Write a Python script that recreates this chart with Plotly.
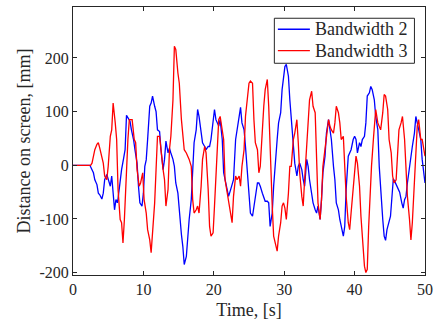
import plotly.graph_objects as go

# ---- Data ----
time_bw2 = [0, 1.0, 2.0, 2.4, 2.9, 3.1, 3.4, 3.6, 3.8, 4.1, 4.3, 4.5, 4.8, 5.0, 5.3, 5.5, 5.7, 5.9, 6.1, 6.3, 6.4,
             6.7, 6.9, 7.2, 7.4, 7.6, 7.9, 8.1, 8.3, 8.6, 8.8, 9.1, 9.3, 9.5, 9.8, 10.0, 10.2, 10.4, 10.6, 10.9,
             11.1, 11.3, 11.6, 11.8, 12.0, 12.3, 12.5, 12.8, 13.0, 13.2, 13.5, 13.7, 13.9, 14.2, 14.4, 14.6,
             14.9, 15.1, 15.4, 15.6, 15.8, 16.1, 16.3, 16.5, 16.8, 17.0, 17.2, 17.5, 17.7, 17.9, 18.2, 18.4,
             18.7, 18.9, 19.2, 19.4, 19.6, 19.9, 20.1, 20.3, 20.5, 20.7, 20.9, 21.2, 21.4, 21.6, 21.9, 22.1,
             22.4, 22.6, 22.8, 23.1, 23.3, 23.6, 23.8, 24.0, 24.3, 24.5, 24.7, 25.0, 25.2, 25.5, 25.7, 25.9,
             26.2, 26.4, 26.6, 26.9, 27.1, 27.3, 27.6, 27.8, 28.0, 28.3, 28.5, 28.8, 29.0, 29.2, 29.5, 29.7,
             29.9, 30.1, 30.3, 30.6, 30.8, 31.0, 31.3, 31.5, 31.8, 32.0, 32.2, 32.5, 32.7, 32.9, 33.2, 33.4,
             33.6, 33.9, 34.1, 34.4, 34.6, 34.8, 35.1, 35.3, 35.5, 35.8, 36.0, 36.3, 36.5, 36.7, 37.0, 37.2,
             37.4, 37.7, 37.9, 38.1, 38.4, 38.6, 38.8, 39.1, 39.3, 39.5, 39.8, 40.0, 40.2, 40.4, 40.7, 40.9,
             41.1, 41.4, 41.6, 41.8, 42.1, 42.3, 42.5, 42.8, 43.0, 43.3, 43.5, 43.7, 44.0, 44.2, 44.4, 44.6,
             44.9, 45.1, 45.3, 45.5, 45.7, 46.0, 46.2, 46.4, 46.7, 46.9, 47.1, 47.3, 47.5, 47.8, 48.0, 48.2,
             48.5, 48.7, 48.9, 49.1, 49.4, 49.6, 49.9, 50.0]
dist_bw2 = [0, 0, 0, 0, -14, -27, -36, -52, -55, -63, -52, -27, -17, -27, -39, -20, -45, -83, -64, -70, -62,
            -24, -8, 14, 29, 93, 85, 82, 66, 48, 29, 4, -39, -70, -76, -52, -2, 10, 48, 110,
            116, 129, 110, 100, 66, 63, 29, -8, 11, 45, 23, 32, 23, 11, -2, -33,
            -52, -89, -129, -151, -185, -170, -132, -101, -64, 4, 42, 66, 104, 91, 66, 42,
            35, 29, 35, 35, 48, 79, 104, 85, 79, 73, 85, 48, -14, -27, -45, -58,
            -45, -33, -27, 48, 66, 85, 108, 79, 66, 35, -2, -64, -89, -95, -76, -64,
            -33, -33, -39, -52, -58, -67, -67, -70, -114, -89, -39, 4, 48, 79, 98, 141,
            160, 184, 188, 166, 122, 85, 29, 4, -20, -2, 4, -8, -27, -39, 11, -2,
            -27, -58, -70, -83, -89, -76, -101, -64, -14, 17, 60, 85, 66, 48, -2, -27,
            -70, -83, -101, -114, -132, -114, -45, 17, 23, 29, 48, 54, 48, 23, 42, 35,
            48, 54, 79, 129, 135, 147, 141, 122, 91, 66, -2, -52, -101, -132, -140, -120,
            -101, -95, -60, -25, -30, -39, -42, -50, -70, -80, -64, -58, -33, -2, 23, 35,
            60, 91, 79, 66, 48, 11, -27, -33]

time_bw3 = [0, 1.0, 2.0, 2.5, 2.7, 2.9, 3.1, 3.4, 3.6, 3.8, 4.1, 4.3, 4.5, 4.8, 5.0, 5.3, 5.5, 5.7, 6.0, 6.2,
            6.4, 6.7, 6.9, 7.1, 7.3, 7.5, 7.8, 8.0, 8.2, 8.4, 8.7, 8.9, 9.1, 9.4, 9.6, 9.9, 10.1, 10.4,
            10.6, 10.9, 11.1, 11.3, 11.6, 11.8, 12.0, 12.3, 12.5, 12.8, 13.0, 13.2, 13.5, 13.7, 13.9, 14.2,
            14.4, 14.6, 14.9, 15.1, 15.4, 15.6, 15.8, 16.1, 16.3, 16.5, 16.8, 17.0, 17.2, 17.5, 17.7, 17.9,
            18.2, 18.4, 18.7, 18.9, 19.2, 19.4, 19.6, 19.9, 20.1, 20.3, 20.5, 20.7, 20.9, 21.2, 21.4, 21.6,
            21.9, 22.1, 22.4, 22.6, 22.8, 23.1, 23.3, 23.6, 23.8, 24.0, 24.3, 24.5, 24.7, 25.0, 25.2, 25.5,
            25.7, 25.9, 26.2, 26.4, 26.6, 26.9, 27.1, 27.3, 27.6, 27.8, 28.0, 28.3, 28.5, 28.8, 29.0, 29.2,
            29.5, 29.7, 29.9, 30.1, 30.3, 30.6, 30.8, 31.0, 31.3, 31.5, 31.8, 32.0, 32.2, 32.5, 32.7, 32.9,
            33.2, 33.4, 33.6, 33.9, 34.1, 34.4, 34.6, 34.8, 35.1, 35.3, 35.5, 35.8, 36.0, 36.3, 36.5, 36.7,
            37.0, 37.2, 37.4, 37.7, 37.9, 38.1, 38.4, 38.6, 38.8, 39.1, 39.3, 39.5, 39.8, 40.0, 40.2, 40.4,
            40.7, 40.9, 41.1, 41.4, 41.6, 41.8, 42.0, 42.2, 42.4, 42.7, 42.9, 43.0, 43.3, 43.5, 43.7, 44.0,
            44.2, 44.4, 44.7, 44.9, 45.2, 45.4, 45.6, 45.9, 46.1, 46.3, 46.6, 46.8, 47.1, 47.3, 47.5, 47.8,
            48.0, 48.2, 48.5, 48.7, 48.9, 49.1, 49.4, 49.6, 49.9, 50.0]
dist_bw3 = [0, 0, 0, 0, 4, 20, 29, 39, 42, 32, 17, 4, -20, -27, -2, 54, 66, 116, 79, 48,
            -45, -101, -107, -145, -101, -27, 48, 85, 85, 85, 48, 42, -8, -39, -33, -14, -64, -89,
            -120, -139, -163, -126, -70, -8, 54, 54, 23, -8, -27, -76, -45, 29, 54, 122,
            222, 216, 172, 153, 85, 48, 29, 23, 17, 11, -2, -64, -89, -83, -76, -89,
            -39, 11, 35, 23, -45, -114, -132, -126, -76, -14, 48, 85, 91, 60, 48, -27,
            -52, -70, -95, -107, -58, -20, -27, -20, -39, -2, 29, 91, 116, 153, 157, 153,
            85, 42, 29, -14, -2, 73, 110, 141, 160, 110, 23, -76, -132, -151, -160, -132,
            -107, -76, -70, -80, -101, -52, -2, -2, 48, 60, 85, 42, -14, -58, -76, -27,
            29, 66, 122, 138, 110, 98, 17, -70, -101, -64, -2, 35, 60, 85, 73, 66,
            60, 79, 110, 98, 79, 48, 54, -2, -58, -107, -120, -89, -45, -2, 17, 4,
            -39, -95, -132, -188, -200, -194, -114, -52, -2, 54, 85, 104, 79, 73, 66, 98,
            132, 129, 104, 48, 23, -20, -33, -27, 23, 66, 79, 91, 48, -14, -58, -101,
            -139, -107, -39, 29, 73, 85, 48, 48, 29, 17]

series_names = ["Bandwidth 2", "Bandwidth 3"]
series_colors = ["rgb(0,0,255)", "rgb(255,0,0)"]

x_ticks = [0, 10, 20, 30, 40, 50]
y_ticks = [-200, -100, 0, 100, 200]
y_tick_labels = ["-200", "-100", "0", "100", "200"]

FONT = "Liberation Serif, DejaVu Serif, serif"
AXIS_COLOR = "#262626"

fig = go.Figure()
for t, d, name, color in zip([time_bw2, time_bw3], [dist_bw2, dist_bw3], series_names, series_colors):
    fig.add_trace(go.Scatter(x=t, y=d, mode="lines", name=name, showlegend=False,
                             line=dict(color=color, width=1.3)))

axis_common = dict(showline=True, linecolor=AXIS_COLOR, linewidth=1, mirror="allticks",
                   ticks="inside", ticklen=4, tickcolor=AXIS_COLOR, showgrid=False,
                   zeroline=False, tickfont=dict(family=FONT, size=16, color=AXIS_COLOR))

fig.update_xaxes(range=[0, 50], tickvals=x_ticks,
                 title=dict(text="Time, [s]", font=dict(family=FONT, size=18, color=AXIS_COLOR), standoff=6),
                 **axis_common)
fig.update_yaxes(range=[-204.5, 295], tickvals=y_ticks, ticktext=y_tick_labels,
                 title=dict(text="Distance on screen, [mm]", font=dict(family=FONT, size=18, color=AXIS_COLOR), standoff=4),
                 **axis_common)

# Compact boxed legend (MATLAB style), placed in paper coordinates of the plot area
box_x0, box_x1, box_y0, box_y1 = 0.572, 0.970, 0.790, 0.958
row_y = [0.917, 0.837]
shapes = [dict(type="rect", xref="paper", yref="paper", x0=box_x0, x1=box_x1, y0=box_y0, y1=box_y1,
               line=dict(color=AXIS_COLOR, width=1), fillcolor="white", layer="above")]
annotations = []
for name, color, yy in zip(series_names, series_colors, row_y):
    shapes.append(dict(type="line", xref="paper", yref="paper", x0=0.582, x1=0.673, y0=yy, y1=yy,
                       line=dict(color=color, width=1.3), layer="above"))
    annotations.append(dict(xref="paper", yref="paper", x=0.681, y=yy, text=name, showarrow=False,
                            xanchor="left", yanchor="middle",
                            font=dict(family=FONT, size=18, color=AXIS_COLOR)))

fig.update_layout(
    width=439, height=327,
    margin=dict(l=73, r=14, t=7, b=52),
    paper_bgcolor="white", plot_bgcolor="white",
    font=dict(family=FONT, size=16, color=AXIS_COLOR),
    shapes=shapes, annotations=annotations,
)

fig.write_html("out.html")
